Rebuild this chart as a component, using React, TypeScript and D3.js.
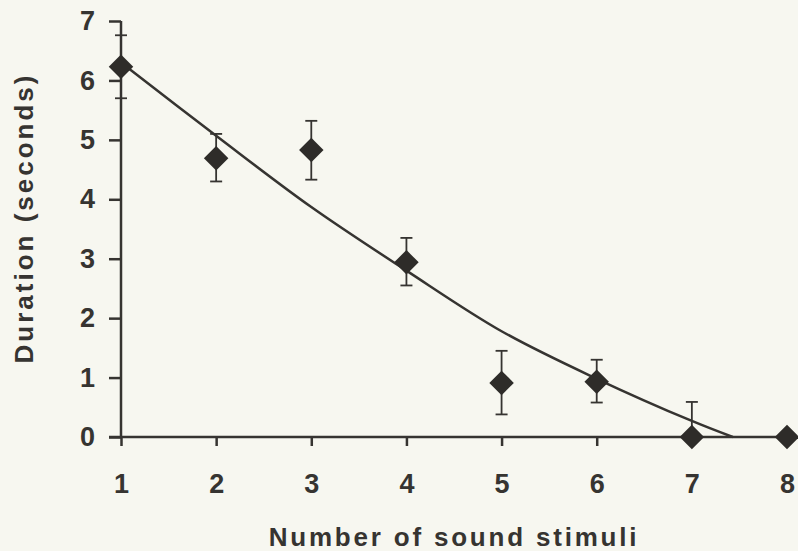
import React, { useEffect, useRef } from "react";
import * as d3 from "d3";

// stimuli count, mean duration and error (seconds)
const stimuli = [1, 2, 3, 4, 5, 6, 7, 8];
const duration = [6.23, 4.69, 4.83, 2.94, 0.91, 0.93, 0.0, 0.0];
const errUp = [0.53, 0.41, 0.49, 0.41, 0.54, 0.37, 0.59, 0];
const errDown = [0.53, 0.39, 0.5, 0.39, 0.53, 0.35, 0, 0];

// fitted curve
const fitX = [1, 2, 3, 4, 5, 6, 7, 7.43];
const fitY = [6.3, 5.07, 3.87, 2.8, 1.78, 0.98, 0.27, 0];

const xTicks = [1, 2, 3, 4, 5, 6, 7, 8];
const yTicks = [0, 1, 2, 3, 4, 5, 6, 7];

const W = 798;
const H = 551;
const INK = "#363431";
const FONT = "'Liberation Sans', Arial, Helvetica, sans-serif";

const App = () => {
    const ref = useRef<SVGSVGElement>(null);

    useEffect(() => {
        const svg = d3.select(ref.current);
        svg.selectAll("*").remove();

        const x = d3.scaleLinear().domain([1, 8]).range([121, 787]);
        const y = d3.scaleLinear().domain([0, 7]).range([437, 21]);

        svg.append("rect").attr("width", W).attr("height", H).attr("fill", "#f7f7f0");

        // y axis
        const gy = svg.append("g").attr("transform", `translate(${x(1)},0)`);
        gy.call(d3.axisLeft(y).tickValues(yTicks).tickSize(12).tickPadding(14).tickFormat(d3.format("d")))
            .call(g => g.select(".domain").remove());
        gy.append("line")
            .attr("y1", y(7)).attr("y2", y(0))
            .attr("stroke", INK).attr("stroke-width", 2.5);
        gy.selectAll(".tick line").attr("stroke", INK).attr("stroke-width", 2.5);
        gy.selectAll(".tick text")
            .attr("fill", INK).attr("font-family", FONT)
            .attr("font-weight", "bold").attr("font-size", 27);

        // x axis
        const gx = svg.append("g").attr("transform", `translate(0,${y(0)})`);
        gx.call(d3.axisBottom(x).tickValues(xTicks).tickSize(9).tickPadding(29).tickFormat(d3.format("d")))
            .call(g => g.select(".domain").remove());
        gx.append("line")
            .attr("x1", x(1) - 12).attr("x2", x(8))
            .attr("stroke", INK).attr("stroke-width", 2.5);
        gx.selectAll(".tick line").attr("stroke", INK).attr("stroke-width", 2.5);
        gx.selectAll(".tick text")
            .attr("fill", INK).attr("font-family", FONT)
            .attr("font-weight", "bold").attr("font-size", 27)
            .attr("dy", "0.72em")
            .attr("y", 37);

        // titles
        svg.append("text")
            .attr("x", 454).attr("y", 546)
            .attr("text-anchor", "middle")
            .attr("fill", INK).attr("font-family", FONT)
            .attr("font-weight", "bold").attr("font-size", 26)
            .attr("letter-spacing", 2.8)
            .text("Number of sound stimuli");

        svg.append("text")
            .attr("transform", "translate(33,218) rotate(-90)")
            .attr("text-anchor", "middle")
            .attr("fill", INK).attr("font-family", FONT)
            .attr("font-weight", "bold").attr("font-size", 26)
            .attr("letter-spacing", 3)
            .text("Duration (seconds)");

        // fitted curve
        const line = d3.line<number>()
            .x((_, i) => x(fitX[i]))
            .y(d => y(d))
            .curve(d3.curveCatmullRom);
        svg.append("path")
            .attr("d", line(fitY))
            .attr("fill", "none")
            .attr("stroke", INK)
            .attr("stroke-width", 2.5);

        // error bars
        const eb = svg.append("g").attr("stroke", INK).attr("stroke-width", 1.8);
        stimuli.forEach((s, i) => {
            const cx = x(s);
            if (errUp[i] > 0) {
                eb.append("line").attr("x1", cx).attr("x2", cx)
                    .attr("y1", y(duration[i])).attr("y2", y(duration[i] + errUp[i]));
                eb.append("line").attr("x1", cx - 6).attr("x2", cx + 6)
                    .attr("y1", y(duration[i] + errUp[i])).attr("y2", y(duration[i] + errUp[i]));
            }
            if (errDown[i] > 0) {
                eb.append("line").attr("x1", cx).attr("x2", cx)
                    .attr("y1", y(duration[i])).attr("y2", y(duration[i] - errDown[i]));
                eb.append("line").attr("x1", cx - 6).attr("x2", cx + 6)
                    .attr("y1", y(duration[i] - errDown[i])).attr("y2", y(duration[i] - errDown[i]));
            }
        });

        // diamonds
        const diamond = d3.symbol().type(d3.symbolSquare).size(300);
        svg.append("g").selectAll("path")
            .data(stimuli)
            .join("path")
            .attr("d", diamond)
            .attr("transform", (d, i) => `translate(${x(d)},${y(duration[i])}) rotate(45)`)
            .attr("fill", "#2e2c29");
    }, []);

    return (
        <svg
            ref={ref}
            width={W}
            height={H}
            style={{ position: "absolute", left: 0, top: 0 }}
        />
    );
};

export default App;
